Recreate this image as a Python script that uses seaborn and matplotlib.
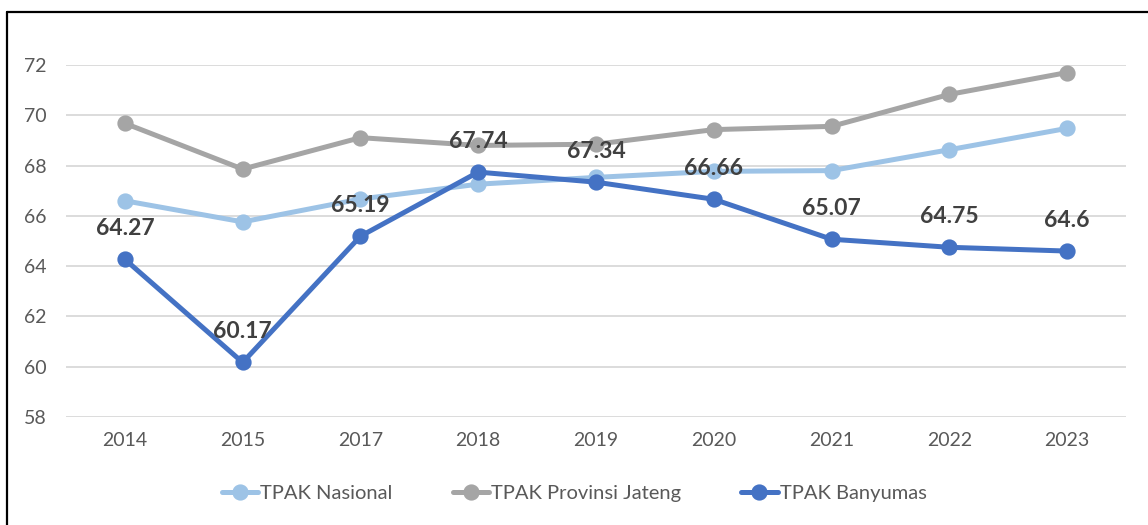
import matplotlib
matplotlib.use("Agg")
import matplotlib.pyplot as plt
from matplotlib.lines import Line2D
import seaborn as sns
import pandas as pd

years = ["2014", "2015", "2017", "2018", "2019", "2020", "2021", "2022", "2023"]
tpak_nasional = [66.60, 65.76, 66.67, 67.26, 67.53, 67.77, 67.80, 68.63, 69.48]
tpak_jateng = [69.68, 67.86, 69.11, 68.80, 68.85, 69.43, 69.56, 70.83, 71.70]
tpak_banyumas = [64.27, 60.17, 65.19, 67.74, 67.34, 66.66, 65.07, 64.75, 64.6]
series_names = ["TPAK Nasional", "TPAK Provinsi Jateng", "TPAK Banyumas"]
colors = ["#9DC3E6", "#A5A5A5", "#4472C4"]
y_ticks = [58, 60, 62, 64, 66, 68, 70, 72]

df = pd.DataFrame({
    "Tahun": years * 3,
    "Nilai": tpak_nasional + tpak_jateng + tpak_banyumas,
    "Seri": [series_names[0]] * len(years) + [series_names[1]] * len(years) + [series_names[2]] * len(years),
})

sns.set_theme(style="white")
plt.rcParams["font.family"] = ["Lato", "DejaVu Sans"]

fig = plt.figure(figsize=(11.48, 5.25), dpi=100)
W, H = 1148, 525
ax = fig.add_axes([66 / W, 1 - 417 / H, (1126 - 66) / W, (417 - 65) / H])

sns.pointplot(data=df, x="Tahun", y="Nilai", hue="Seri", order=years,
              hue_order=series_names, palette=colors, markers="o",
              linestyles="-", errorbar=None, markersize=9, linewidth=3.6,
              ax=ax)

ax.set_xlim(-0.5, len(years) - 0.5)
ax.set_ylim(58, 72)
ax.set_yticks(y_ticks)
ax.set_yticklabels([str(t) for t in y_ticks])
ax.yaxis.grid(True, color="#D9D9D9", linewidth=1.3)
ax.set_axisbelow(True)
for s in ax.spines.values():
    s.set_visible(False)
ax.tick_params(axis="both", length=0, labelsize=14, colors="#595959")
ax.tick_params(axis="y", pad=14)
ax.tick_params(axis="x", pad=11)
ax.set_xlabel("")
ax.set_ylabel("")

for i, v in enumerate(tpak_banyumas):
    ax.annotate(f"{v:g}", (i, v), xytext=(0, 22), textcoords="offset points",
                ha="center", va="center", fontsize=16.5, fontweight="bold",
                color="#404040", zorder=10)

handles, labels = ax.get_legend_handles_labels()
if ax.get_legend() is not None:
    ax.get_legend().remove()
fig.legend(handles, labels, loc="center", bbox_to_anchor=(0.5, 1 - 493 / H),
           ncol=3, frameon=False, fontsize=14.5, labelcolor="#595959",
           handlelength=1.8, handletextpad=0.1, columnspacing=3.0)

fig.add_artist(Line2D([7 / W, 7 / W], [0, 1 - 12 / H], color="black", linewidth=1.6,
                      transform=fig.transFigure))
fig.add_artist(Line2D([7 / W, 1], [1 - 12 / H, 1 - 12 / H], color="black", linewidth=1.6,
                      transform=fig.transFigure))

fig.savefig("out.png", dpi=100, facecolor="white")
